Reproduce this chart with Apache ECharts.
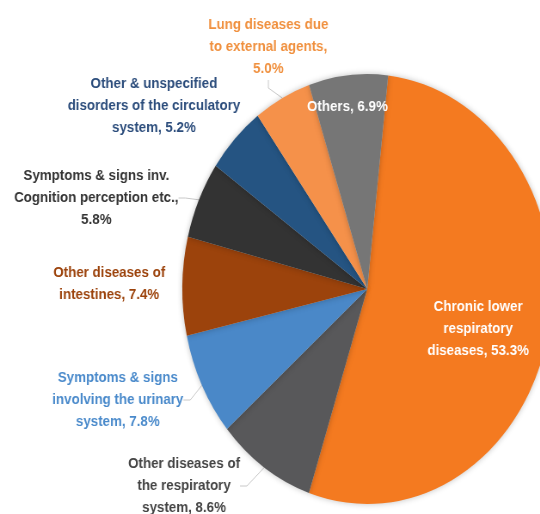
<!DOCTYPE html>
<html>
<head>
<meta charset="utf-8">
<script src="https://cdn.jsdelivr.net/npm/echarts@6/dist/echarts.min.js"></script>
<style>
html,body{margin:0;padding:0;background:#fff;overflow:hidden;}
#wrap{width:540px;height:514px;overflow:hidden;position:relative;}
#chart{width:628px;height:514px;transform:scaleX(0.86);transform-origin:0 0;}
</style>
</head>
<body>
<div id="wrap"><div id="chart"></div></div>
<script>
// Data
var categories = [
  'Chronic lower\nrespiratory\ndiseases',
  'Other diseases of\nthe respiratory\nsystem',
  'Symptoms & signs\ninvolving the urinary\nsystem',
  'Other diseases of\nintestines',
  'Symptoms & signs inv.\nCognition perception etc.,\n',
  'Other & unspecified\ndisorders of the circulatory\nsystem',
  'Lung diseases due\nto external agents,\n',
  'Others'
];
var values = [53.3, 8.6, 7.8, 7.4, 5.8, 5.2, 5.0, 6.9];

// Styles
var sliceColors = ['#F47A20', '#58585A', '#4A88C8', '#9C430C', '#333333', '#255482', '#F5914A', '#767676'];
var labelColors = ['#FFFFFF', '#444444', '#4A8ACB', '#9C430C', '#333333', '#2C4D7C', '#F0903E', '#FFFFFF'];
var labelPos = [[556, 329], [214, 486], [137, 400], [127, 284], [112, 198], [179, 106], [312, 47], [404, 107]];
var showLine = [false, true, true, false, true, false, true, false];

var chart = echarts.init(document.getElementById('chart'), null, {renderer: 'canvas'});
var data = categories.map(function (c, i) {
  return {
    name: c,
    value: values[i],
    itemStyle: {color: sliceColors[i]},
    label: {color: labelColors[i]},
    labelLine: {show: showLine[i], lineStyle: {color: '#C8C8C8', width: 1}}
  };
});
chart.setOption({
  animation: false,
  series: [{
    type: 'pie',
    center: [427, 289],
    radius: [0, 215],
    startAngle: 83.5,
    clockwise: true,
    avoidLabelOverlap: false,
    data: data,
    itemStyle: {borderWidth: 0, shadowBlur: 6, shadowColor: 'rgba(0,0,0,0.25)'},
    label: {
      show: true,
      position: 'outside',
      fontFamily: 'Liberation Sans',
      fontWeight: 'bold',
      fontSize: 15.5,
      lineHeight: 22,
      align: 'center',
      formatter: function (p) {
        var n = p.name;
        var sep = n.charAt(n.length - 1) === '\n' ? '' : ', ';
        return n + sep + p.value.toFixed(1) + '%';
      }
    },
    labelLine: {length: 8, length2: 8},
    labelLayout: function (params) {
      var pos = labelPos[params.dataIndex];
      return {x: pos[0], y: pos[1], align: 'center', verticalAlign: 'middle'};
    }
  }]
});
</script>
</body>
</html>
